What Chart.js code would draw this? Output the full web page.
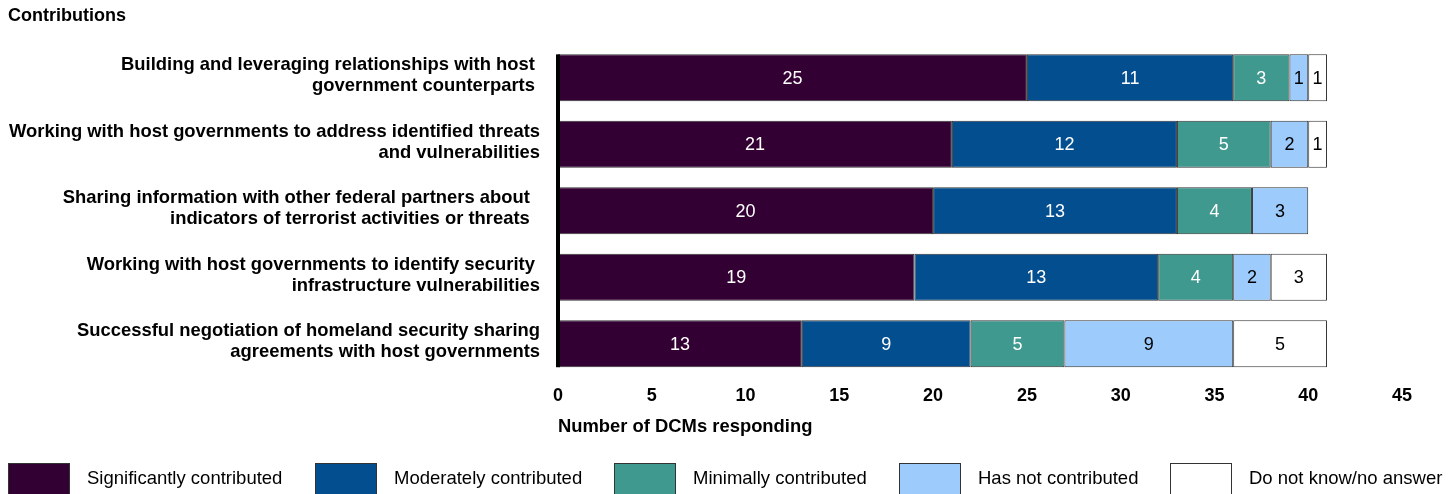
<!DOCTYPE html>
<html>
<head>
<meta charset="utf-8">
<script src="https://cdn.jsdelivr.net/npm/chart.js@4.4.1/dist/chart.umd.min.js"></script>
<style>
  html, body { margin: 0; padding: 0; background: #ffffff; }
  #wrap { width: 1455px; height: 494px; position: relative; }
</style>
</head>
<body>
<div id="wrap"><canvas id="chart"></canvas></div>
<script>
// Survey items (multi-line category labels)
const categories = [
  ['Building and leveraging relationships with host ', 'government counterparts '],
  ['Working with host governments to address identified threats', 'and vulnerabilities'],
  ['Sharing information with other federal partners about  ', 'indicators of terrorist activities or threats  '],
  ['Working with host governments to identify security ', 'infrastructure vulnerabilities'],
  ['Successful negotiation of homeland security sharing', 'agreements with host governments']
];

// Responses per category
const significantly  = [25, 21, 20, 19, 13];
const moderately     = [11, 12, 13, 13, 9];
const minimally      = [3, 5, 4, 4, 5];
const notContributed = [1, 2, 3, 2, 9];
const doNotKnow      = [1, 1, 0, 3, 5];

const seriesNames = [
  'Significantly contributed',
  'Moderately contributed',
  'Minimally contributed',
  'Has not contributed',
  'Do not know/no answer'
];
const seriesColors = ['#330033', '#034E8E', '#40998F', '#9CCBFC', '#FFFFFF'];
const labelColors  = ['#FFFFFF', '#FFFFFF', '#FFFFFF', '#000000', '#000000'];

const xTicks = [0, 5, 10, 15, 20, 25, 30, 35, 40, 45];

const FONT = '"Liberation Sans", Arial, Helvetica, sans-serif';
const SIZE = 18;

// Values written in the middle of each stacked segment
const segmentLabels = {
  id: 'segmentLabels',
  afterDatasetsDraw(chart) {
    const ctx = chart.ctx;
    ctx.save();
    ctx.font = SIZE + 'px ' + FONT;
    ctx.textAlign = 'center';
    ctx.textBaseline = 'middle';
    chart.data.datasets.forEach((ds, di) => {
      const meta = chart.getDatasetMeta(di);
      meta.data.forEach((bar, i) => {
        const v = ds.data[i];
        if (!v) return;
        const p = bar.getProps(['x', 'y', 'base'], true);
        ctx.fillStyle = labelColors[di];
        ctx.fillText(String(v), (p.x + p.base) / 2, p.y + 1);
      });
    });
    ctx.restore();
  }
};

// Heavy value axis line spanning the bars
const axisLine = {
  id: 'axisLine',
  afterDatasetsDraw(chart) {
    const meta = chart.getDatasetMeta(0);
    const first = meta.data[0].getProps(['y', 'height'], true);
    const last = meta.data[meta.data.length - 1].getProps(['y', 'height'], true);
    const x = chart.scales.x.getPixelForValue(0);
    const ctx = chart.ctx;
    ctx.save();
    ctx.fillStyle = '#000000';
    ctx.fillRect(x - 2, first.y - first.height / 2, 4, (last.y + last.height / 2) - (first.y - first.height / 2));
    ctx.restore();
  }
};

// Legend row along the bottom edge
const bottomLegend = {
  id: 'bottomLegend',
  afterDraw(chart) {
    const ctx = chart.ctx;
    const boxW = 62, boxH = 34, gapText = 17, gapItem = 32, top = 463;
    ctx.save();
    ctx.font = '18.5px ' + FONT;
    const widths = seriesNames.map(t => ctx.measureText(t).width);
    const total = widths.reduce((a, w) => a + boxW + gapText + w, 0) + gapItem * (seriesNames.length - 1);
    let x = Math.max(8, (chart.width - total) / 2 - 2);
    seriesNames.forEach((name, i) => {
      const bx = Math.round(x);
      ctx.fillStyle = seriesColors[i];
      ctx.fillRect(bx, top, boxW, boxH);
      ctx.strokeStyle = '#333333';
      ctx.lineWidth = 1;
      ctx.strokeRect(bx + 0.5, top + 0.5, boxW - 1, boxH - 1);
      ctx.fillStyle = '#000000';
      ctx.textAlign = 'left';
      ctx.textBaseline = 'middle';
      ctx.fillText(name, bx + boxW + gapText, top + 15.5);
      x += boxW + gapText + widths[i] + gapItem;
    });
    ctx.restore();
  }
};

const seriesData = [significantly, moderately, minimally, notContributed, doNotKnow];

new Chart(document.getElementById('chart'), {
  type: 'bar',
  data: {
    labels: categories,
    datasets: seriesData.map((d, i) => ({
      label: seriesNames[i],
      data: d,
      backgroundColor: seriesColors[i],
      borderColor: '#333333',
      borderWidth: 1,
      borderSkipped: false,
      categoryPercentage: 1.0,
      barPercentage: 0.706
    }))
  },
  options: {
    indexAxis: 'y',
    responsive: true,
    maintainAspectRatio: false,
    animation: false,
    events: [],
    layout: { padding: { left: 8, right: 53, top: 0, bottom: 47 } },
    plugins: {
      legend: { display: false },
      tooltip: { enabled: false },
      title: {
        display: true,
        text: 'Contributions',
        align: 'start',
        color: '#000000',
        font: { family: FONT, size: SIZE, weight: 'bold', lineHeight: 1.2 },
        padding: { top: 5, bottom: 18 }
      }
    },
    scales: {
      x: {
        stacked: true,
        min: 0,
        max: 45,
        afterBuildTicks(scale) { scale.ticks = xTicks.map(v => ({ value: v })); },
        afterFit(scale) { scale.height = 70; },
        grid: { display: false, drawTicks: false },
        border: { display: false },
        ticks: {
          color: '#000000',
          padding: 8,
          maxRotation: 0,
          font: { family: FONT, size: SIZE, weight: 'bold' }
        },
        title: {
          display: true,
          text: 'Number of DCMs responding',
          align: 'start',
          color: '#000000',
          font: { family: FONT, size: 18.4, weight: 'bold' },
          padding: { top: 0, bottom: 9 }
        }
      },
      y: {
        stacked: true,
        afterFit(scale) { scale.width = 550; },
        grid: { display: false, drawTicks: false },
        border: { display: false },
        ticks: {
          color: '#000000',
          padding: 18,
          labelOffset: -2,
          font: { family: FONT, size: 18.4, weight: 'bold', lineHeight: 1.15 }
        }
      }
    }
  },
  plugins: [segmentLabels, axisLine, bottomLegend]
});
</script>
</body>
</html>
